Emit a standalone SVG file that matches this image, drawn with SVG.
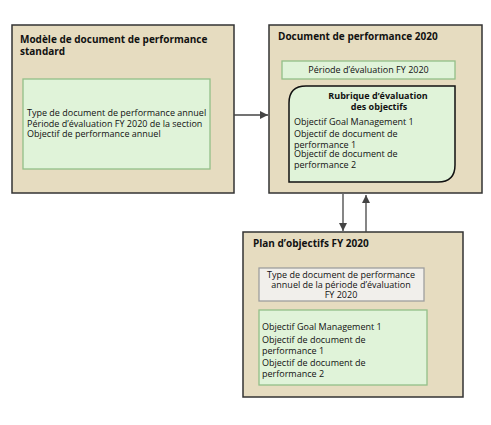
<svg xmlns="http://www.w3.org/2000/svg" width="491" height="425" viewBox="0 0 491 425">
<defs>
<style>
.outer{fill:#e6dcc0;stroke:#333;stroke-width:1.5}
.green{fill:#e0f3d9;stroke:#93bf88;stroke-width:1.3}
.gray{fill:#f1efeb;stroke:#9e9e9e;stroke-width:1.3}
.t{font-family:"Open Sans","Noto Sans",sans-serif;font-size:9px;fill:#111}
.b{font-family:"Open Sans","Noto Sans",sans-serif;font-size:10px;font-weight:bold;fill:#111}
.b9{font-family:"Open Sans","Noto Sans",sans-serif;font-size:9px;font-weight:bold;fill:#111}
.c{text-anchor:middle}
.line{stroke:#444;stroke-width:1.3;fill:none}
</style>
<marker id="ah" viewBox="0 0 10 10" refX="10" refY="5" markerWidth="8" markerHeight="8" markerUnits="userSpaceOnUse" orient="auto">
<path d="M0,0 L10,5 L0,10 z" fill="#444"/>
</marker>
</defs>
<rect width="491" height="425" fill="#fff"/>
<g id="modele">
<rect class="outer" x="12" y="25" width="222" height="168"/>
<text class="b" x="20" y="43">Modèle de document de performance</text>
<text class="b" x="20" y="55">standard</text>
<rect class="green" x="23" y="79" width="187" height="90"/>
<text class="t" x="27" y="116">Type de document de performance annuel</text>
<text class="t" x="27" y="126.5">Période d’évaluation FY 2020 de la section</text>
<text class="t" x="27" y="137">Objectif de performance annuel</text>
</g>
<g id="document2020">
<rect class="outer" x="269" y="25" width="213" height="168"/>
<text class="b" x="278" y="40">Document de performance 2020</text>
<rect class="green" x="282" y="61" width="173" height="18"/>
<text class="t c" x="368.5" y="73">Période d’évaluation FY 2020</text>
<path d="M306,86 H455 V165 Q455,182 438,182 H289 V103 Q289,86 306,86 Z" fill="#e0f3d9" stroke="#111" stroke-width="1.5"/>
<text class="b9 c" x="378" y="99">Rubrique d’évaluation</text>
<text class="b9 c" x="379" y="110">des objectifs</text>
<text class="t" x="294" y="125">Objectif Goal Management 1</text>
<text class="t" x="294" y="137">Objectif de document de</text>
<text class="t" x="294" y="147.5">performance 1</text>
<text class="t" x="294" y="157">Objectif de document de</text>
<text class="t" x="294" y="168">performance 2</text>
</g>
<g id="plan">
<rect class="outer" x="243" y="232" width="220" height="165"/>
<text class="b" x="253" y="247">Plan d’objectifs FY 2020</text>
<rect class="gray" x="259" y="268" width="165" height="33"/>
<text class="t c" x="341" y="278">Type de document de performance</text>
<text class="t c" x="341" y="288">annuel de la période d’évaluation</text>
<text class="t c" x="341" y="298">FY 2020</text>
<rect class="green" x="259" y="310" width="168" height="75"/>
<text class="t" x="262" y="330">Objectif Goal Management 1</text>
<text class="t" x="262" y="343">Objectif de document de</text>
<text class="t" x="262" y="354">performance 1</text>
<text class="t" x="262" y="366">Objectif de document de</text>
<text class="t" x="262" y="377">performance 2</text>
</g>
<g id="connectors">
<line class="line" x1="234" y1="115" x2="268" y2="115" marker-end="url(#ah)"/>
<line class="line" x1="343" y1="194" x2="343" y2="231" marker-end="url(#ah)"/>
<line class="line" x1="366" y1="232" x2="366" y2="195" marker-end="url(#ah)"/>
</g>
</svg>
